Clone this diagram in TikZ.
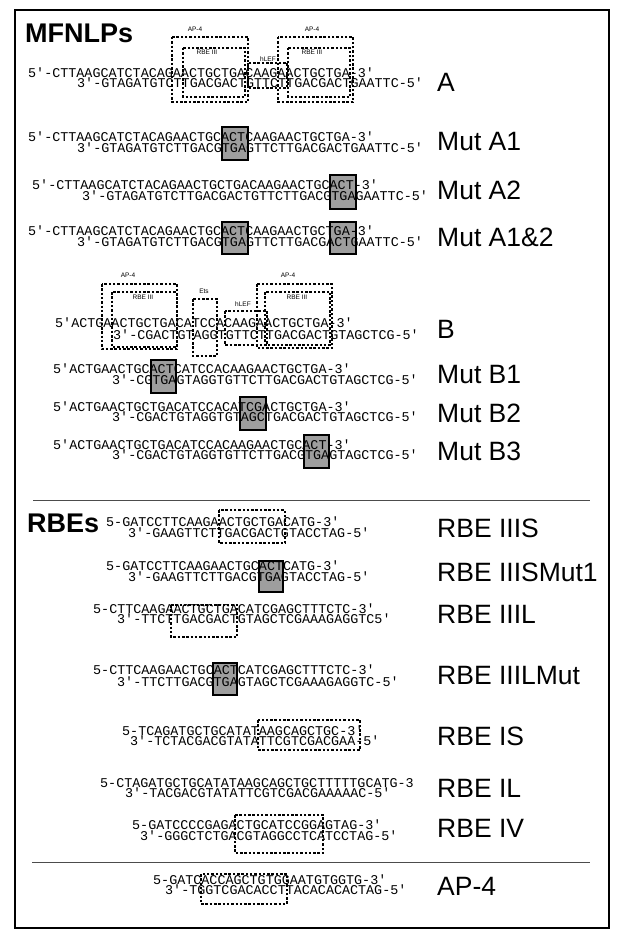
\documentclass[tikz,border=0pt]{standalone}
\usepackage{fontspec}
\setmainfont{Liberation Sans}
\newfontfamily\seqfont{Liberation Mono}
\begin{document}
\begin{tikzpicture}[x=1pt,y=-1pt,
  seq/.style={font=\seqfont\fontsize{13.4}{14}\selectfont,inner sep=0pt,anchor=west},
  lab/.style={font=\fontsize{26.5}{28}\selectfont,inner sep=0pt,anchor=west},
  ttl/.style={font=\bfseries\fontsize{27}{28}\selectfont,inner sep=0pt,anchor=west},
  sm/.style={font=\fontsize{6.5}{7}\selectfont,inner sep=0pt},
  dbox/.style={draw,dashed,dash pattern=on 2.5pt off 1.8pt,line width=1.1pt},
  gbox/.style={draw,line width=1.3pt,fill=black!38}]
\useasboundingbox (0,0) rectangle (625,939);
\draw[line width=1.3pt] (15,10) rectangle (609,928);
\draw[line width=0.6pt,black!70] (33,500) -- (590,500);
\draw[line width=0.6pt,black!70] (32,862) -- (590,862);
\node[ttl] (t1) at (25,33) {MFNLPs};
\node[ttl] (t2) at (27,523) {RBEs};
% mutation boxes
\draw[gbox] (222,127) rectangle (248,160);
\draw[gbox] (330,175) rectangle (356,209);
\draw[gbox] (222,222) rectangle (248,254);
\draw[gbox] (330,222) rectangle (356,254);
\draw[gbox] (151,360) rectangle (176,393);
\draw[gbox] (240,397) rectangle (266,430);
\draw[gbox] (304,435) rectangle (329,468);
\draw[gbox] (259,561) rectangle (283,592);
\draw[gbox] (213,663) rectangle (237,695);
% A
\node[seq] (a1) at (28,73) {5'-CTTAAGCATCTACAGAACTGCTGACAAGAACTGCTGA-3'};
\node[seq] (a2) at (77,83) {3'-GTAGATGTCTTGACGACTGTTCTTGACGACTGAATTC-5'};
\draw[dbox] (172,37) rectangle (248,102);
\draw[dbox] (183,48) rectangle (245,97);
\draw[dbox] (248,63) rectangle (287,88);
\draw[dbox] (278,37) rectangle (353,102);
\draw[dbox] (288,48) rectangle (350,97);
\node[sm] (ap1) at (195,29) {AP-4};
\node[sm] (ap2) at (312,29) {AP-4};
\node[sm] (r1) at (207,52) {RBE III};
\node[sm] (r2) at (312,52) {RBE III};
\node[sm] (h1) at (268,59) {hLEF};
\node[lab] (LA) at (437,82) {A};
% A1
\node[seq] (m1a) at (28,137) {5'-CTTAAGCATCTACAGAACTGCACTCAAGAACTGCTGA-3'};
\node[seq] (m1b) at (77,148) {3'-GTAGATGTCTTGACGTGAGTTCTTGACGACTGAATTC-5'};
\node[lab] (L1) at (437,142) {Mut A1};
\node[seq] (m2a) at (32,185) {5'-CTTAAGCATCTACAGAACTGCTGACAAGAACTGCACT-3'};
\node[seq] (m2b) at (82,196) {3'-GTAGATGTCTTGACGACTGTTCTTGACGTGAGAATTC-5'};
\node[lab] (L2) at (437,190) {Mut A2};
\node[seq] (m3a) at (28,231) {5'-CTTAAGCATCTACAGAACTGCACTCAAGAACTGCTGA-3'};
\node[seq] (m3b) at (77,242) {3'-GTAGATGTCTTGACGTGAGTTCTTGACGACTGAATTC-5'};
\node[lab] (L3) at (437,237) {Mut A1\&2};
% B
\node[seq] (b1) at (55,323) {5'ACTGAACTGCTGACATCCACAAGAACTGCTGA-3'};
\node[seq] (b2) at (113,335) {3'-CGACTGTAGGTGTTCTTGACGACTGTAGCTCG-5'};
\draw[dbox] (102,284) rectangle (177,349);
\draw[dbox] (112,292) rectangle (177,347);
\draw[dbox] (193,299) rectangle (217,356);
\draw[dbox] (225,311) rectangle (267,345);
\draw[dbox] (257,284) rectangle (332,348);
\draw[dbox] (265,292) rectangle (330,345);
\node[sm] (bp1) at (128,275) {AP-4};
\node[sm] (bp2) at (288,275) {AP-4};
\node[sm] (br1) at (143,297) {RBE III};
\node[sm] (br2) at (297,297) {RBE III};
\node[sm] (be) at (204,291) {Ets};
\node[sm] (bh) at (243,304) {hLEF};
\node[lab] (LB) at (437,329) {B};
\node[seq] (n1a) at (53,369) {5'ACTGAACTGCACTCATCCACAAGAACTGCTGA-3'};
\node[seq] (n1b) at (112,380) {3'-CGTGAGTAGGTGTTCTTGACGACTGTAGCTCG-5'};
\node[lab] (LB1) at (437,375) {Mut B1};
\node[seq] (n2a) at (53,407) {5'ACTGAACTGCTGACATCCACATCGACTGCTGA-3'};
\node[seq] (n2b) at (112,417) {3'-CGACTGTAGGTGTAGCTGACGACTGTAGCTCG-5'};
\node[lab] (LB2) at (437,413) {Mut B2};
\node[seq] (n3a) at (53,445) {5'ACTGAACTGCTGACATCCACAAGAACTGCACT-3'};
\node[seq] (n3b) at (112,455) {3'-CGACTGTAGGTGTTCTTGACGTGAGTAGCTCG-5'};
\node[lab] (LB3) at (437,451) {Mut B3};
% RBEs
\node[seq] (s1a) at (106,522) {5-GATCCTTCAAGAACTGCTGACATG-3'};
\node[seq] (s1b) at (128,533) {3'-GAAGTTCTTGACGACTGTACCTAG-5'};
\draw[dbox] (219,510) rectangle (285,543);
\node[lab] (R1) at (437,528) {RBE IIIS};
\node[seq] (s2a) at (106,566) {5-GATCCTTCAAGAACTGCACTCATG-3'};
\node[seq] (s2b) at (128,577) {3'-GAAGTTCTTGACGTGAGTACCTAG-5'};
\node[lab] (R2) at (437,572) {RBE IIISMut1};
\node[seq] (s3a) at (93,609) {5-CTTCAAGAACTGCTGACATCGAGCTTTCTC-3'};
\node[seq] (s3b) at (117,619) {3'-TTCTTGACGACTGTAGCTCGAAAGAGGTC5'};
\draw[dbox] (171,605) rectangle (237,637);
\node[lab] (R3) at (437,614) {RBE IIIL};
\node[seq] (s4a) at (93,670) {5-CTTCAAGAACTGCACTCATCGAGCTTTCTC-3'};
\node[seq] (s4b) at (117,682) {3'-TTCTTGACGTGAGTAGCTCGAAAGAGGTC-5'};
\node[lab] (R4) at (437,676) {RBE IIILMut};
\node[seq] (s5a) at (122,731) {5-TCAGATGCTGCATATAAGCAGCTGC-3'};
\node[seq] (s5b) at (130,741) {3'-TCTACGACGTATATTCGTCGACGAA-5'};
\draw[dbox] (258,720) rectangle (360,750);
\node[lab] (R5) at (437,736) {RBE IS};
\node[seq] (s6a) at (100,783) {5-CTAGATGCTGCATATAAGCAGCTGCTTTTTGCATG-3};
\node[seq] (s6b) at (125,793) {3'-TACGACGTATATTCGTCGACGAAAAAC-5'};
\node[lab] (R6) at (437,788) {RBE IL};
\node[seq] (s7a) at (132,825) {5-GATCCCCGAGACTGCATCCGGAGTAG-3'};
\node[seq] (s7b) at (140,836) {3'-GGGCTCTGACGTAGGCCTCATCCTAG-5'};
\draw[dbox] (235,815) rectangle (323,853);
\node[lab] (R7) at (437,828) {RBE IV};
\node[seq] (p1) at (153,880) {5-GATCACCAGCTGTGGAATGTGGTG-3'};
\node[seq] (p2) at (165,890) {3'-TGGTCGACACCTTACACACACTAG-5'};
\draw[dbox] (201,874) rectangle (287,904);
\node[lab] (R8) at (437,886) {AP-4};
\end{tikzpicture}
\end{document}
